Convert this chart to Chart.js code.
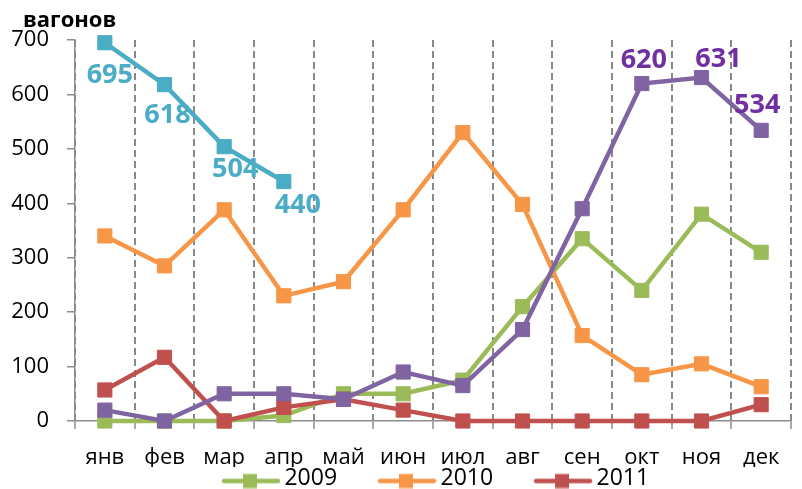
<!DOCTYPE html>
<html>
<head>
<meta charset="utf-8">
<script src="https://cdn.jsdelivr.net/npm/chart.js@4"></script>
<style>
  html, body { margin: 0; padding: 0; overflow: hidden; background: #fff; }
  #wrap { width: 802px; height: 500px; }
</style>
</head>
<body>
<div id="wrap"><canvas id="wagonChart"></canvas></div>
<script>
const months = ['янв', 'фев', 'мар', 'апр', 'май', 'июн', 'июл', 'авг', 'сен', 'окт', 'ноя', 'дек'];

const seriesNames = ['2009', '2010', '2011', '2012', '2013'];
const data2009 = [0, 0, 0, 10, 50, 50, 75, 210, 335, 240, 380, 310];
const data2010 = [340, 285, 388, 230, 256, 388, 530, 398, 157, 85, 105, 63];
const data2011 = [57, 117, 0, 25, 40, 20, 0, 0, 0, 0, 0, 30];
const data2012 = [20, 0, 50, 50, 40, 90, 65, 168, 390, 620, 631, 534];
const data2013 = [695, 618, 504, 440, null, null, null, null, null, null, null, null];

const yMin = 0;
const yMax = 700;
const yStep = 100;
const unitLabel = 'вагонов';

const colors = ['#9BBB59', '#F79646', '#C0504D', '#8064A2', '#4BACC6'];

// legend icon: line with a square marker, like the excel legend
function legendIcon(color) {
    const c = document.createElement('canvas');
    c.width = 120;
    c.height = 20;
    const g = c.getContext('2d');
    g.strokeStyle = color;
    g.lineWidth = 4.5;
    g.lineCap = 'round';
    g.beginPath();
    g.moveTo(48, 12.5);
    g.lineTo(102, 12.5);
    g.stroke();
    g.fillStyle = color;
    g.fillRect(67, 5.5, 14, 14);
    return c;
}

function makeSet(i, values, extra) {
    return Object.assign({
        label: seriesNames[i],
        data: values,
        borderColor: colors[i],
        backgroundColor: colors[i],
        borderWidth: 4.5,
        pointStyle: 'rect',
        pointRadius: 10,
        pointHoverRadius: 10,
        pointBorderWidth: 1,
        pointBackgroundColor: colors[i],
        pointBorderColor: colors[i],
        tension: 0,
        clip: false,
        spanGaps: false,
        order: 5 - i
    }, extra || {});
}

const datasets = [
    makeSet(0, data2009),
    makeSet(1, data2010),
    makeSet(2, data2011),
    makeSet(3, data2012, { valueLabels: { at: [9, 10, 11], color: '#7030A0', dx: [2, 17, -4], dy: [-23, -18, -25] } }),
    makeSet(4, data2013, { valueLabels: { at: [0, 1, 2, 3], color: '#4BACC6', dx: [5, 3, 11, 14], dy: [33, 31, 23, 24] } })
];

const valueLabelPlugin = {
    id: 'valueLabels',
    afterDatasetsDraw(chart) {
        const ctx = chart.ctx;
        chart.data.datasets.forEach((ds, i) => {
            if (!ds.valueLabels) return;
            const o = ds.valueLabels;
            chart.getDatasetMeta(i).data.forEach((pt, j) => {
                const k = o.at.indexOf(j);
                if (ds.data[j] == null || k < 0) return;
                ctx.save();
                ctx.font = 'bold 27px "Open Sans"';
                ctx.fillStyle = o.color;
                ctx.textAlign = 'center';
                ctx.textBaseline = 'middle';
                ctx.fillText(String(ds.data[j]), pt.x + o.dx[k], pt.y + o.dy[k]);
                ctx.restore();
            });
        });
    }
};

const unitTitlePlugin = {
    id: 'unitTitle',
    afterDraw(chart) {
        const ctx = chart.ctx;
        ctx.save();
        ctx.font = 'bold 22px "Open Sans"';
        ctx.fillStyle = '#000';
        ctx.textAlign = 'left';
        ctx.textBaseline = 'alphabetic';
        ctx.fillText(unitLabel, 23, 27);
        ctx.restore();
    }
};

const icons = colors.map(legendIcon);

new Chart(document.getElementById('wagonChart').getContext('2d'), {
    type: 'line',
    data: {
        labels: months,
        datasets: datasets
    },
    options: {
        responsive: true,
        maintainAspectRatio: false,
        animation: false,
        layout: {
            padding: { top: 40, right: 1, left: 0, bottom: 0 }
        },
        plugins: {
            tooltip: { enabled: false },
            legend: {
                position: 'bottom',
                fullSize: false,
                labels: {
                    usePointStyle: true,
                    pointStyleWidth: 74,
                    boxHeight: 20,
                    padding: 0,
                    color: '#000',
                    font: { family: 'Open Sans', size: 23 },
                    // trailing spaces keep the excel spacing between entries
                    generateLabels: chart => chart.data.datasets.slice(0, 3).map((ds, i) => ({
                        text: ds.label + '   ',
                        pointStyle: icons[i],
                        datasetIndex: i,
                        fontColor: '#000',
                        hidden: false,
                        lineWidth: 0
                    }))
                }
            }
        },
        scales: {
            x: {
                offset: true,
                afterFit: s => { s.height = 46; },
                grid: {
                    offset: true,
                    color: '#888888',
                    lineWidth: 2,
                    drawTicks: true,
                    tickLength: 8,
                    tickColor: '#8C8C8C',
                    tickWidth: 1.5
                },
                border: {
                    display: true,
                    color: '#8C8C8C',
                    width: 1.5,
                    dash: [7, 4]
                },
                ticks: {
                    color: '#000',
                    padding: 16,
                    maxRotation: 0,
                    autoSkip: false,
                    font: { family: 'Open Sans', size: 22 }
                }
            },
            y: {
                min: yMin,
                max: yMax,
                afterFit: s => { s.width = 75; },
                grid: {
                    drawOnChartArea: false,
                    drawTicks: true,
                    tickLength: 8,
                    color: '#8C8C8C',
                    lineWidth: 1.5
                },
                border: {
                    display: true,
                    color: '#8C8C8C',
                    width: 1.5
                },
                ticks: {
                    stepSize: yStep,
                    color: '#000',
                    padding: 18,
                    font: { family: 'Open Sans', size: 22 }
                }
            }
        }
    },
    plugins: [valueLabelPlugin, unitTitlePlugin]
});
</script>
</body>
</html>
